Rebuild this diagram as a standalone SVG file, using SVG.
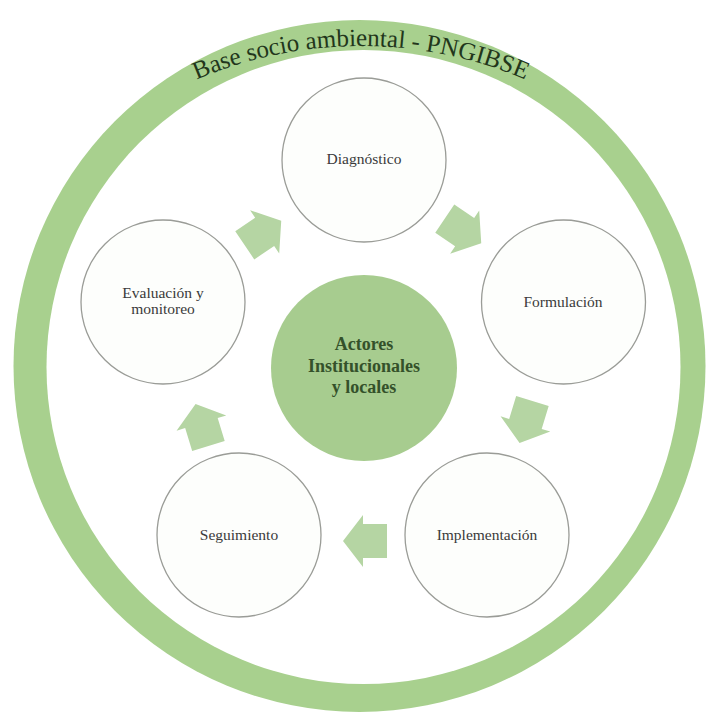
<svg xmlns="http://www.w3.org/2000/svg" width="707" height="715" viewBox="0 0 707 715">
<style>
.node{fill:#fdfefc;stroke:#9a9c97;stroke-width:1.3}
.lbl{font-family:"Liberation Serif","Times New Roman",serif;font-size:15.5px;fill:#3a3a3a;text-anchor:middle}
.arrow{fill:#b5d5a3}
.ctr{font-family:"Liberation Serif","Times New Roman",serif;font-size:18px;font-weight:bold;fill:#34512a;text-anchor:middle}
.title{font-family:"Liberation Serif","Times New Roman",serif;font-size:25px;fill:#22361b}
</style>
<defs>
<polygon id="arr" points="-22,-17 2,-17 2,-26 22,0 2,26 2,17 -22,17"/>
<path id="tp" d="M -59 466 A 420 420 0 0 1 781 466"/>
</defs>
<rect width="707" height="715" fill="#ffffff"/>
<g id="ring">
<circle cx="359.5" cy="366" r="346" fill="#a8d08e"/>
<circle cx="363.5" cy="367" r="317" fill="#ffffff"/>
<text class="title"><textPath href="#tp" startOffset="50%" text-anchor="middle">Base socio ambiental - PNGIBSE</textPath></text>
</g>
<g id="connectors">
<use href="#arr" class="arrow" transform="translate(263,233) rotate(-34)"/>
<use href="#arr" class="arrow" transform="translate(463,231) rotate(34)"/>
<use href="#arr" class="arrow" transform="translate(526,422) rotate(107)"/>
<use href="#arr" class="arrow" transform="translate(365,541) rotate(180)"/>
<use href="#arr" class="arrow" transform="translate(202,425) rotate(-107)"/>
</g>
<g id="center">
<circle cx="364" cy="368" r="93" fill="#a7cc8f"/>
<text class="ctr" x="364" y="350">Actores</text>
<text class="ctr" x="364" y="372">Institucionales</text>
<text class="ctr" x="364" y="393">y locales</text>
</g>
<g id="diagnostico">
<circle class="node" cx="364" cy="160" r="82"/>
<text class="lbl" x="364" y="164">Diagnóstico</text>
</g>
<g id="formulacion">
<circle class="node" cx="563.5" cy="302" r="82"/>
<text class="lbl" x="563" y="307">Formulación</text>
</g>
<g id="implementacion">
<circle class="node" cx="487" cy="535" r="82"/>
<text class="lbl" x="487" y="540">Implementación</text>
</g>
<g id="seguimiento">
<circle class="node" cx="239" cy="535" r="82"/>
<text class="lbl" x="239" y="540">Seguimiento</text>
</g>
<g id="evaluacion">
<circle class="node" cx="163" cy="302" r="82"/>
<text class="lbl" x="163" y="298">Evaluación y</text>
<text class="lbl" x="163" y="314">monitoreo</text>
</g>
</svg>
